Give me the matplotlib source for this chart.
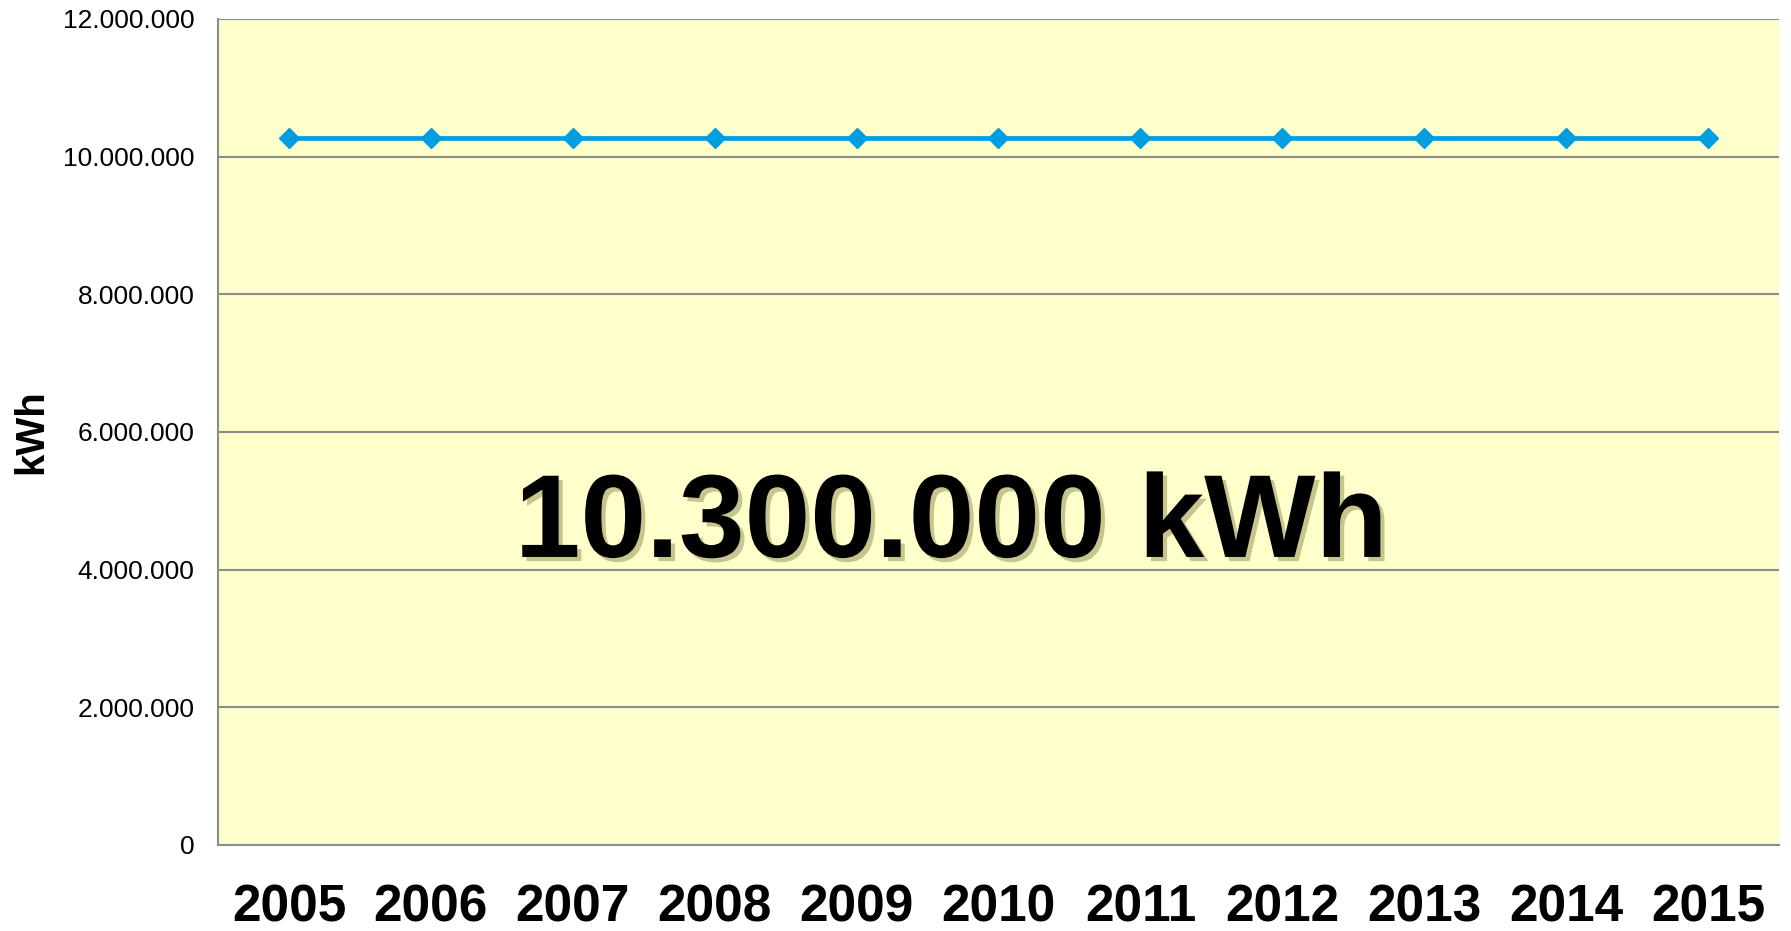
import numpy as np
import matplotlib
matplotlib.use("Agg")
from matplotlib import pyplot as plt
from matplotlib import patheffects as pe
from matplotlib.ticker import FuncFormatter

# data
years = ["2005", "2006", "2007", "2008", "2009", "2010",
         "2011", "2012", "2013", "2014", "2015"]
kwh = [10270000, 10270000, 10270000, 10270000, 10270000, 10270000,
       10270000, 10270000, 10270000, 10270000, 10270000]
y_ticks = [0, 2000000, 4000000, 6000000, 8000000, 10000000, 12000000]
big_label = "10.300.000 kWh"

plt.rcParams['font.family'] = ['Liberation Sans', 'DejaVu Sans']


def dot_thousands(v, pos):
    return f"{int(v):,}".replace(",", ".")


fig = plt.figure(figsize=(17.91, 9.31), dpi=100)
ax = fig.add_axes([0.1217, 0.0924, 0.8716, 0.8872])
ax.set_facecolor("#FFFFCC")

x = np.arange(len(years))
ax.plot(x, kwh, color="#009EE0", lw=3.4, marker="D", markersize=10,
        markeredgewidth=1, markeredgecolor="#009EE0", zorder=3)

ax.set_xlim(-0.5, len(years) - 0.5)
ax.set_ylim(0, 12000000)
ax.set_yticks(y_ticks)
ax.yaxis.set_major_formatter(FuncFormatter(dot_thousands))
ax.set_xticks(x)
ax.set_xticklabels(years, fontsize=37, fontweight="bold")
ax.tick_params(axis="y", length=0, labelsize=19, pad=17)
ax.tick_params(axis="x", length=0, pad=28)

ax.grid(axis="y", color="#8C8C8C", lw=1.5)
ax.set_axisbelow(True)
for s in ["top", "right"]:
    ax.spines[s].set_visible(False)
for s in ["left", "bottom"]:
    ax.spines[s].set_color("#8C8C8C")
    ax.spines[s].set_linewidth(1.5)

ax.set_ylabel("kWh", fontsize=29, fontweight="bold", labelpad=9)

ax.text(0.4696, 0.3487, big_label, transform=ax.transAxes,
        ha="center", va="baseline", fontsize=85, fontweight="bold",
        color="black",
        path_effects=[pe.SimplePatchShadow(offset=(3, -3), shadow_rgbFace="#6E6E30",
                                           alpha=0.4), pe.Normal()])

fig.savefig("out.png", dpi=100)
